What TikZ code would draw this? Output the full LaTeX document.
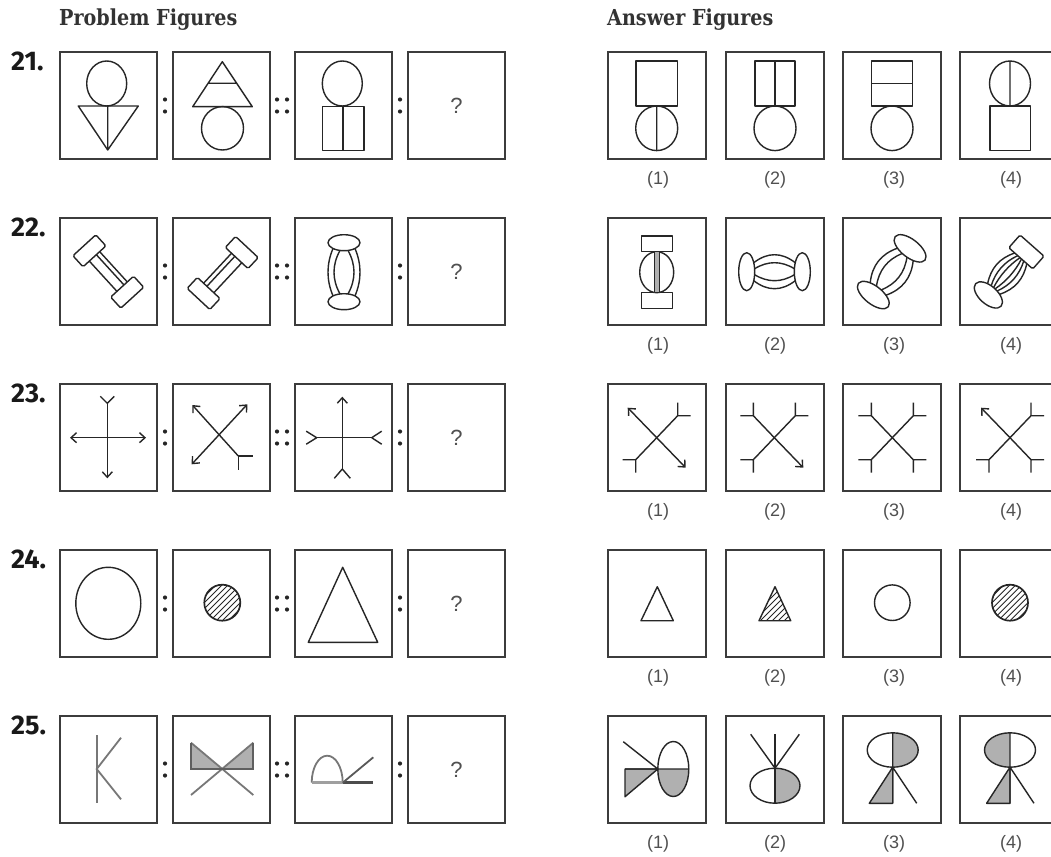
\documentclass[tikz,border=0pt]{standalone}
\usepackage{fontspec}
\setmainfont{Liberation Sans}
\newfontfamily\headfont{DejaVu Serif}
\newfontfamily\numfont{Fira Sans}
\usetikzlibrary{arrows.meta}
\definecolor{boxc}{HTML}{3C3C3C}
\definecolor{inkc}{HTML}{262626}
\definecolor{labc}{HTML}{505050}
\definecolor{fillc}{HTML}{B0B0B0}
\definecolor{gryc}{HTML}{777777}
\definecolor{headc}{HTML}{333333}

\newcommand{\bcurveraw}[4]{%
 \pgfmathsetmacro\bcm{(4*(#4)-(#3))/3}%
 \pgfmathsetmacro\bca{(#1)+((#2)-(#1))/3}%
 \pgfmathsetmacro\bcb{(#2)-((#2)-(#1))/3}%
 \draw[ln] (#1,#3) .. controls (\bca,\bcm) and (\bcb,\bcm) .. (#2,#3);
 \draw[ln] (#1,-#3) .. controls (\bca,-\bcm) and (\bcb,-\bcm) .. (#2,-#3);}
\newcommand{\bcurve}[5]{%
 \pgfmathsetmacro\bcs{(#1)-(#2)*sqrt(1-((#4)/(#3))^2)}%
 \bcurveraw{-\bcs}{\bcs}{#4}{#5}}
\newcommand{\barrel}[6]{%
 \begin{scope}[shift={#1},rotate=#2]
 \draw[ln] (#3,0) ellipse[x radius=#4,y radius=#5];
 \draw[ln] (-#3,0) ellipse[x radius=#4,y radius=#5];
 \foreach \bo/\bB in {#6} {\bcurve{#3}{#4}{#5}{\bo}{\bB}}
 \end{scope}}
\newcommand{\dumbbell}[2]{%
 \begin{scope}[shift={#1},rotate=#2]
 \draw[ln,rounded corners=1.5pt] (20.5,-15.5) rectangle (35.5,15.5);
 \draw[ln,rounded corners=1.5pt] (-35.5,-15.5) rectangle (-20.5,15.5);
 \draw[ln] (-20.5,-7)--(20.5,-7) (-20.5,7)--(20.5,7) (-20.5,-2.5)--(20.5,-2.5);
 \end{scope}}
\newcommand{\hatchlines}{\foreach \k in {-60,-54,...,60} {\draw[inkc,line width=0.9pt] (\k-40,40)--(\k+40,-40);}}
\newcommand{\armA}[2]{\draw[arr] (0,0)--({29*(#1)},{30*(#2)});}
\newcommand{\armF}[2]{\draw[ln] (0,0)--({21*(#1)},{22*(#2)})--++({13*(#1)},0) ({21*(#1)},{22*(#2)})--++(0,{13*(#2)});}

\newcommand{\mkrow}[2]{%
 \node[numlab,anchor=west] (n#1) at (11,#2+9.5) {#1.};
 \node[fbox] (r#1p1) at (108.5,#2+53.5) {};
 \node[fbox] (r#1p2) at (221.5,#2+53.5) {};
 \node[fbox] (r#1p3) at (343.5,#2+53.5) {};
 \node[fbox] (r#1p4) at (456.5,#2+53.5) {};
 \node[qmark] (r#1q) at (r#1p4.center) {?};
 \fill[inkc] (165,#2+47.5) circle[radius=2.1] (165,#2+59.5) circle[radius=2.1];
 \fill[inkc] (277,#2+47.5) circle[radius=2.1] (277,#2+59.5) circle[radius=2.1];
 \fill[inkc] (287,#2+47.5) circle[radius=2.1] (287,#2+59.5) circle[radius=2.1];
 \fill[inkc] (400,#2+47.5) circle[radius=2.1] (400,#2+59.5) circle[radius=2.1];
 \node[abox] (r#1a1) at (657,#2+53.5) {};
 \node[abox] (r#1a2) at (775,#2+53.5) {};
 \node[abox] (r#1a3) at (892,#2+53.5) {};
 \node[abox] (r#1a4) at (1009,#2+53.5) {};
 \node[alab] (r#1l1) at (658,#2+128) {(1)};
 \node[alab] (r#1l2) at (775,#2+128) {(2)};
 \node[alab] (r#1l3) at (894,#2+128) {(3)};
 \node[alab] (r#1l4) at (1011,#2+128) {(4)};
}

\begin{document}
\begin{tikzpicture}[x=1pt,y=-1pt,
 fbox/.style={draw=boxc,line width=1.8pt,minimum width=97pt,minimum height=107pt,inner sep=0pt,outer sep=0pt},
 abox/.style={fbox,minimum width=98pt},
 ln/.style={draw=inkc,line width=1.4pt,line join=round},
 gln/.style={draw=gryc,line width=1.8pt},
 arr/.style={ln,-{Straight Barb[length=5.5pt,width=10pt]}},
 darr/.style={ln,{Straight Barb[length=5.5pt,width=10pt]}-{Straight Barb[length=5.5pt,width=10pt]}},
 head/.style={font=\headfont\bfseries\fontsize{22pt}{24pt}\selectfont,text=headc,inner sep=0pt},
 numlab/.style={font=\numfont\bfseries\fontsize{27pt}{29pt}\selectfont,text=black!90,inner sep=0pt},
 qmark/.style={font=\fontsize{22pt}{24pt}\selectfont,text=labc},
 alab/.style={font=\fontsize{18pt}{20pt}\selectfont,text=labc}]
\useasboundingbox (0,0) rectangle (1051,856);
\clip (0,0) rectangle (1051,856);
\fill[white] (0,0) rectangle (1051,856);

\node[head,anchor=west] (hp) at (59,20) {\scalebox{0.87}[1]{Problem Figures}};
\node[head,anchor=west] (ha) at (607,20) {\scalebox{0.87}[1]{Answer Figures}};

\mkrow{21}{52}
\mkrow{22}{218}
\mkrow{23}{384}
\mkrow{24}{550}
\mkrow{25}{716}

% ---------- row 21 ----------
\begin{scope}[shift={(r21p1.north west)}]
 \draw[ln] (46.7,31.5) ellipse[x radius=20,y radius=22.5];
 \draw[ln] (18.3,54)--(78.3,54)--(47.7,98)--cycle (47.7,54)--(47.7,98);
\end{scope}
\begin{scope}[shift={(r21p2.north west)}]
 \draw[ln] (49.3,9.7)--(79.3,54.7)--(19.7,54.7)--cycle (35.1,31.3)--(63.5,31.3);
 \draw[ln] (49.5,76.3) ellipse[x radius=21,y radius=21.7];
\end{scope}
\begin{scope}[shift={(r21p3.north west)}]
 \draw[ln] (47.3,31.5) ellipse[x radius=20,y radius=22.5];
 \draw[ln] (27.3,54.7) rectangle (69,98.7) (47.8,54.7)--(47.8,98.7);
\end{scope}
\begin{scope}[shift={(r21a1.north west)}]
 \draw[ln] (28,9) rectangle (69.3,54);
 \draw[ln] (48.7,76.3) ellipse[x radius=21,y radius=22.3] (48.7,54)--(48.7,98.6);
\end{scope}
\begin{scope}[shift={(r21a2.north west)}]
 \draw[ln] (29,9) rectangle (69,54) (49,9)--(49,54);
 \draw[ln] (49,76.3) ellipse[x radius=21,y radius=22.3];
\end{scope}
\begin{scope}[shift={(r21a3.north west)}]
 \draw[ln] (28.7,9) rectangle (69.3,54) (28.7,31.3)--(69.3,31.3);
 \draw[ln] (49,76.3) ellipse[x radius=21,y radius=22.3];
\end{scope}
\begin{scope}[shift={(r21a4.north west)}]
 \draw[ln] (50,31.5) ellipse[x radius=20.5,y radius=22.5] (50,9)--(50,54);
 \draw[ln] (30,54) rectangle (70.7,98.7);
\end{scope}

% ---------- row 22 ----------
\begin{scope}[shift={(r22p1.north west)}]
 \dumbbell{(48.3,53.5)}{-47.6}
\end{scope}
\begin{scope}[shift={(r22p2.north west)}]
 \dumbbell{(49.7,55)}{47}
\end{scope}
\begin{scope}[shift={(r22p3.north west)}]
 \barrel{(49,54.2)}{90}{29.5}{8}{16}{11/16,4/10}
\end{scope}
\begin{scope}[shift={(r22a1.north west)}]
 \draw[ln] (33.7,18) rectangle (64.7,33.7);
 \draw[ln] (33.7,74.7) rectangle (64.7,90.3);
 \draw[ln] (48.7,54.2) ellipse[x radius=17,y radius=20.5];
 \draw[ln,fill=fillc] (46.3,33.7) rectangle (51.5,74.7);
\end{scope}
\begin{scope}[shift={(r22a2.north west)}]
 \barrel{(48.5,53.7)}{0}{27.8}{8}{19}{9/17,3/9}
\end{scope}
\begin{scope}[shift={(r22a3.north west)}]
 \barrel{(48.7,53.7)}{51.8}{29.7}{9}{19}{10/17,3/9}
\end{scope}
\begin{scope}[shift={(r22a4.north west)}]
 \begin{scope}[shift={(47.5,55.3)},rotate=48.5]
 \draw[ln] (-28.9,0) ellipse[x radius=9,y radius=17];
 \draw[ln,rounded corners=1.5pt] (20,-16) rectangle (37,16);
 \bcurveraw{-20.9}{20}{8}{14}
 \bcurveraw{-20.1}{20}{4}{8.5}
 \bcurveraw{-19.9}{20}{1}{3.5}
 \end{scope}
\end{scope}

% ---------- row 23 ----------
\begin{scope}[shift={(r23p1.north west)}]
 \draw[darr] (10,53.7)--(86,53.7);
 \draw[arr] (47.3,19.3)--(47.3,94.3);
 \draw[ln] (47.3,19.3)--++(-7,-7) (47.3,19.3)--++(7,-7);
\end{scope}
\begin{scope}[shift={(r23p2.north west)}]
 \draw[arr] (65.3,72)--(19.3,21);
 \draw[ln] (65.3,72)--++(15,0) (65.3,72)--++(0,14);
 \draw[darr] (18.7,80.3)--(74.3,20.3);
\end{scope}
\begin{scope}[shift={(r23p3.north west)}]
 \draw[ln] (21.7,53.7)--(76.7,53.7);
 \draw[ln] (21.7,53.7)--++(-10.5,-6.5) (21.7,53.7)--++(-10.5,6.5);
 \draw[ln] (76.7,53.7)--++(10,-6.5) (76.7,53.7)--++(10,6.5);
 \draw[arr] (47.3,85)--(47.3,12.7);
 \draw[ln] (47.3,85)--++(-8,9.3) (47.3,85)--++(8,9.3);
\end{scope}
\begin{scope}[shift={(r23a1.north west)}]
 \begin{scope}[shift={(48.7,53.7)}]
 \armA{-1}{-1} \armF{1}{-1} \armF{-1}{1} \armA{1}{1}
 \end{scope}
\end{scope}
\begin{scope}[shift={(r23a2.north west)}]
 \begin{scope}[shift={(48.3,53.7)}]
 \armF{-1}{-1} \armF{1}{-1} \armF{-1}{1} \armA{1}{1}
 \end{scope}
\end{scope}
\begin{scope}[shift={(r23a3.north west)}]
 \begin{scope}[shift={(49.3,53.7)}]
 \armF{-1}{-1} \armF{1}{-1} \armF{-1}{1} \armF{1}{1}
 \end{scope}
\end{scope}
\begin{scope}[shift={(r23a4.north west)}]
 \begin{scope}[shift={(50,53.7)}]
 \armA{-1}{-1} \armF{1}{-1} \armF{-1}{1} \armF{1}{1}
 \end{scope}
\end{scope}

% ---------- row 24 ----------
\begin{scope}[shift={(r24p1.north west)}]
 \draw[ln] (48.3,53.3) ellipse[x radius=32.5,y radius=36];
\end{scope}
\begin{scope}[shift={(r24p2.north west)}]
 \begin{scope}
 \clip (49.3,52.7) circle[radius=18];
 \begin{scope}[shift={(49.3,52.7)}]\hatchlines\end{scope}
 \end{scope}
 \draw[ln,line width=1.7pt] (49.3,52.7) circle[radius=18];
\end{scope}
\begin{scope}[shift={(r24p3.north west)}]
 \draw[ln] (47.7,17.3)--(82.7,92.3)--(13.3,92.3)--cycle;
\end{scope}
\begin{scope}[shift={(r24a1.north west)}]
 \draw[ln] (49.3,36.7)--(65.3,70.7)--(33,70.7)--cycle;
\end{scope}
\begin{scope}[shift={(r24a2.north west)}]
 \begin{scope}
 \clip (49,36.7)--(64.7,70.7)--(33,70.7)--cycle;
 \begin{scope}[shift={(49,56)}]\hatchlines\end{scope}
 \end{scope}
 \draw[ln] (49,36.7)--(64.7,70.7)--(33,70.7)--cycle;
\end{scope}
\begin{scope}[shift={(r24a3.north west)}]
 \draw[ln] (49.3,52.7) circle[radius=17.8];
\end{scope}
\begin{scope}[shift={(r24a4.north west)}]
 \begin{scope}
 \clip (50,52.7) circle[radius=18];
 \begin{scope}[shift={(50,52.7)}]\hatchlines\end{scope}
 \end{scope}
 \draw[ln,line width=1.7pt] (50,52.7) circle[radius=18];
\end{scope}

% ---------- row 25 ----------
\begin{scope}[shift={(r25p1.north west)}]
 \draw[gln] (36.7,19)--(36.7,87.3);
 \draw[gln] (61,21.7)--(36.7,53)--(61,83.3);
\end{scope}
\begin{scope}[shift={(r25p2.north west)}]
 \fill[fillc] (18,26.7)--(18,53)--(49.3,53)--cycle;
 \fill[fillc] (80.3,26.7)--(80.3,53)--(49.3,53)--cycle;
 \draw[gln] (18,26.7)--(80.3,79) (80.3,26.7)--(18,79);
 \draw[gln,draw=gryc!80!black] (18,26.7)--(18,53)--(80.3,53)--(80.3,26.7);
\end{scope}
\begin{scope}[shift={(r25p3.north west)}]
 \draw[gln] (16.7,66.7) .. controls (16.7,51.8) and (23.6,39.7) .. (32.2,39.7) .. controls (40.8,39.7) and (47.7,51.8) .. (47.7,66.7);
 \draw[line width=2.8pt,draw=gray!75] (16.7,66.7)--(47.7,66.7);
 \draw[line width=2.8pt,draw=black!70] (47.7,66.7)--(78.3,66.7);
 \draw[gln,draw=black!65] (47.7,66.7)--(78.3,41.3);
\end{scope}
\begin{scope}[shift={(r25a1.north west)}]
 \begin{scope}
 \clip (40,53) rectangle (90,90);
 \fill[fillc] (65.3,53) ellipse[x radius=15.5,y radius=27.5];
 \end{scope}
 \draw[ln,fill=fillc] (17,53)--(17,80.7)--(49.8,53)--cycle;
 \draw[ln] (65.3,53) ellipse[x radius=15.5,y radius=27.5];
 \draw[ln] (15.3,25.7)--(49.8,53) (17,53)--(80.8,53);
\end{scope}
\begin{scope}[shift={(r25a2.north west)}]
 \begin{scope}
 \clip (49,40) rectangle (80,95);
 \fill[fillc] (49,69.7) ellipse[x radius=25,y radius=17.5];
 \end{scope}
 \draw[ln] (49,69.7) ellipse[x radius=25,y radius=17.5];
 \draw[ln] (49,18.3)--(49,87.2);
 \draw[ln] (24.7,18.3)--(49,52.2)--(73.3,18.3);
\end{scope}
\begin{scope}[shift={(r25a3.north west)}]
 \begin{scope}
 \clip (49.7,10) rectangle (80,60);
 \fill[fillc] (49.7,34) ellipse[x radius=25.5,y radius=17.2];
 \end{scope}
 \draw[ln] (49.7,34) ellipse[x radius=25.5,y radius=17.2];
 \draw[ln,fill=fillc] (49.7,51.2)--(49.7,87.3)--(26.3,87.3)--cycle;
 \draw[ln] (49.7,16.8)--(49.7,87.3) (49.7,51.2)--(73.7,87.3);
\end{scope}
\begin{scope}[shift={(r25a4.north west)}]
 \begin{scope}
 \clip (20,10) rectangle (50,60);
 \fill[fillc] (50,34) ellipse[x radius=25.5,y radius=17.2];
 \end{scope}
 \draw[ln] (50,34) ellipse[x radius=25.5,y radius=17.2];
 \draw[ln,fill=fillc] (50,51.2)--(50,87.3)--(26.6,87.3)--cycle;
 \draw[ln] (50,16.8)--(50,87.3) (50,51.2)--(74,87.3);
\end{scope}
\end{tikzpicture}
\end{document}
